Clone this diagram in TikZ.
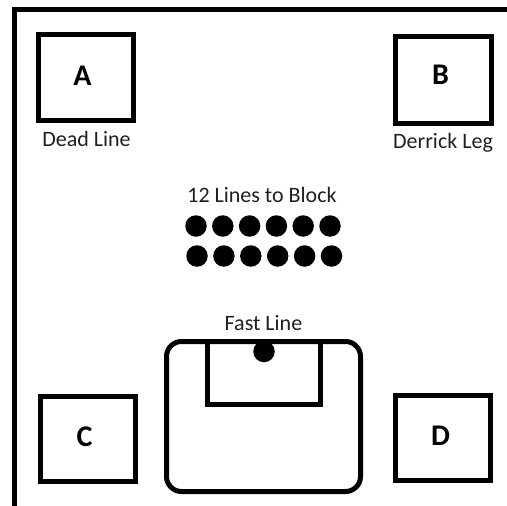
\documentclass[tikz,border=0pt]{standalone}
\usepackage{fontspec}
\setmainfont{Carlito}
\begin{document}
\begin{tikzpicture}[x=1pt,y=-1pt,
  thick line/.style={line width=5pt},
  boxsq/.style={draw,line width=5pt,minimum width=95pt,minimum height=86pt,inner sep=0pt,font=\fontsize{30}{30}\selectfont\bfseries},
  lbl/.style={font=\fontsize{22}{22}\selectfont,anchor=base,inner sep=0pt,text=black!88},
  dotc/.style={circle,fill=black,minimum size=21.5pt,inner sep=0pt}]
\useasboundingbox (0,0) rectangle (507,506);
% border
\coordinate (tl) at (14.5,9.5);
\coordinate (tr) at (507,9.5);
\coordinate (bl) at (14.5,506);
\draw[thick line] (tr) -- (tl) -- (bl);
% corner boxes
\node[boxsq,minimum width=95pt,minimum height=86pt] (A) at (86,77.5) {};
\node[boxsq,minimum width=96pt,minimum height=87pt] (B) at (443.5,80) {};
\node[boxsq,minimum width=95pt,minimum height=85pt] (C) at (88,439) {};
\node[boxsq,minimum width=95pt,minimum height=85pt] (D) at (443,438) {};
\node[font=\fontsize{30}{30}\selectfont\bfseries,anchor=base,inner sep=0pt] (Al) at (82.5,85.7) {A};
\node[font=\fontsize{30}{30}\selectfont\bfseries,anchor=base,inner sep=0pt] (Bl) at (440.5,84.5) {B};
\node[font=\fontsize{30}{30}\selectfont\bfseries,anchor=base,inner sep=0pt] (Cl) at (84.5,446) {C};
\node[font=\fontsize{30}{30}\selectfont\bfseries,anchor=base,inner sep=0pt] (Dl) at (440.5,445.8) {D};
% labels
\node[lbl] (dead) at (86.5,146) {Dead Line};
\node[lbl] (derrick) at (443,148) {Derrick Leg};
\node[lbl] (twelve) at (262,202) {12 Lines to Block};
\node[lbl] (fast) at (263.5,330) {Fast Line};
% dots
\foreach \i in {0,...,5} {
  \node[dotc] (r1\i) at ({196+26.8*\i},226) {};
  \node[dotc] (r2\i) at ({197+26.9*\i},256) {};
}
% block
\draw[thick line,rounded corners=15pt] (166.5,341.5) rectangle (360.5,491.5);
\coordinate (i1) at (207.5,341.5);
\coordinate (i2) at (207.5,404);
\coordinate (i3) at (320.5,404);
\coordinate (i4) at (320.5,341.5);
\draw[thick line] (i1) -- (i2) -- (i3) -- (i4);
\node[dotc] (fastdot) at (264,351.5) {};
\end{tikzpicture}
\end{document}
